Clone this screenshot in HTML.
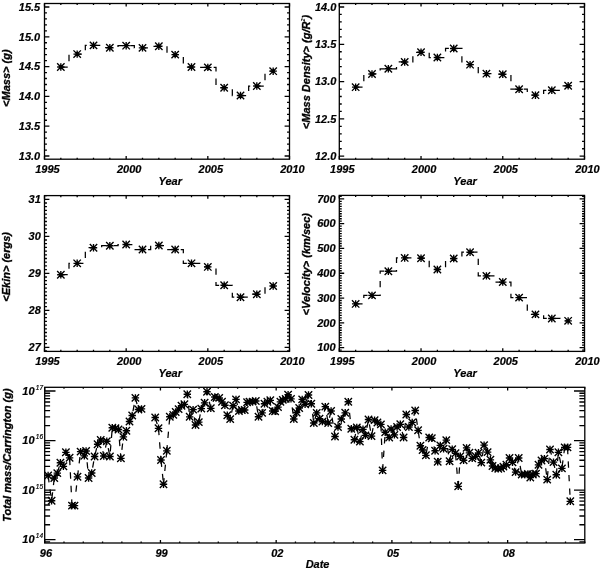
<!DOCTYPE html>
<html><head><meta charset="utf-8"><style>
html,body{margin:0;padding:0;background:#fff;}
svg{display:block;filter:grayscale(1);}
text{font-family:"Liberation Sans",sans-serif;font-weight:bold;font-style:italic;font-size:11px;fill:#000;stroke:#000;stroke-width:0.2px;}
.fr{fill:none;stroke:#000;stroke-width:1.3;}
.tk{fill:none;stroke:#000;stroke-width:1.3;}
.sup{font-size:6.5px;font-weight:normal;}
.rt{stroke:#000;stroke-width:0.35px;}
.thin{stroke-width:0;}
.dl{fill:none;stroke:#000;stroke-width:1.25;stroke-dasharray:6.4 7.15;stroke-dashoffset:-0.5;}
.as{fill:none;stroke:#000;stroke-width:1.35;}
</style></head><body>
<svg width="600" height="571" viewBox="0 0 600 571">
<rect x="44.5" y="3.5" width="245" height="155.7" class="fr"/>
<path d="M44.5 159.2v-3.11M44.5 3.5v3.11M60.83 159.2v-1.56M60.83 3.5v1.56M77.17 159.2v-1.56M77.17 3.5v1.56M93.5 159.2v-1.56M93.5 3.5v1.56M109.83 159.2v-1.56M109.83 3.5v1.56M126.17 159.2v-3.11M126.17 3.5v3.11M142.5 159.2v-1.56M142.5 3.5v1.56M158.83 159.2v-1.56M158.83 3.5v1.56M175.17 159.2v-1.56M175.17 3.5v1.56M191.5 159.2v-1.56M191.5 3.5v1.56M207.83 159.2v-3.11M207.83 3.5v3.11M224.17 159.2v-1.56M224.17 3.5v1.56M240.5 159.2v-1.56M240.5 3.5v1.56M256.83 159.2v-1.56M256.83 3.5v1.56M273.17 159.2v-1.56M273.17 3.5v1.56M289.5 159.2v-3.11M289.5 3.5v3.11M44.5 156h4.9M289.5 156h-4.9M44.5 126.2h4.9M289.5 126.2h-4.9M44.5 96.4h4.9M289.5 96.4h-4.9M44.5 66.6h4.9M289.5 66.6h-4.9M44.5 36.8h4.9M289.5 36.8h-4.9M44.5 7h4.9M289.5 7h-4.9M44.5 156h2.45M289.5 156h-2.45M44.5 150.04h2.45M289.5 150.04h-2.45M44.5 144.08h2.45M289.5 144.08h-2.45M44.5 138.12h2.45M289.5 138.12h-2.45M44.5 132.16h2.45M289.5 132.16h-2.45M44.5 126.2h2.45M289.5 126.2h-2.45M44.5 120.24h2.45M289.5 120.24h-2.45M44.5 114.28h2.45M289.5 114.28h-2.45M44.5 108.32h2.45M289.5 108.32h-2.45M44.5 102.36h2.45M289.5 102.36h-2.45M44.5 96.4h2.45M289.5 96.4h-2.45M44.5 90.44h2.45M289.5 90.44h-2.45M44.5 84.48h2.45M289.5 84.48h-2.45M44.5 78.52h2.45M289.5 78.52h-2.45M44.5 72.56h2.45M289.5 72.56h-2.45M44.5 66.6h2.45M289.5 66.6h-2.45M44.5 60.64h2.45M289.5 60.64h-2.45M44.5 54.68h2.45M289.5 54.68h-2.45M44.5 48.72h2.45M289.5 48.72h-2.45M44.5 42.76h2.45M289.5 42.76h-2.45M44.5 36.8h2.45M289.5 36.8h-2.45M44.5 30.84h2.45M289.5 30.84h-2.45M44.5 24.88h2.45M289.5 24.88h-2.45M44.5 18.92h2.45M289.5 18.92h-2.45M44.5 12.96h2.45M289.5 12.96h-2.45M44.5 7h2.45M289.5 7h-2.45" class="tk"/>
<text x="40.2" y="159.7" text-anchor="end" >13.0</text>
<text x="40.2" y="129.9" text-anchor="end" >13.5</text>
<text x="40.2" y="100.1" text-anchor="end" >14.0</text>
<text x="40.2" y="70.3" text-anchor="end" >14.5</text>
<text x="40.2" y="40.5" text-anchor="end" >15.0</text>
<text x="40.2" y="10.7" text-anchor="end" >15.5</text>
<text x="47.5" y="172.5" text-anchor="middle" >1995</text>
<text x="129.17" y="172.5" text-anchor="middle" >2000</text>
<text x="210.83" y="172.5" text-anchor="middle" >2005</text>
<text x="292.5" y="172.5" text-anchor="middle" >2010</text>
<text x="170.2" y="184.6" text-anchor="middle" >Year</text>
<text transform="translate(10,78.15) rotate(-90)" text-anchor="middle" class="rt">&lt;Mass&gt; (g)</text>
<path d="M60.83 67.02H69V54.08H85.33V45.38H101.67V47.71H118V45.68H134.33V47.89H150.67V46.28H167V54.62H183.33V67.02H199.67V67.37H216V87.7H232.33V95.51H248.67V86.03H265V71.19H273.17" class="dl"/>
<path d="M57.13 67.02H64.53M60.83 63.32V70.72M57.13 63.32L64.53 70.72M57.13 70.72L64.53 63.32M73.47 54.08H80.87M77.17 50.38V57.78M73.47 50.38L80.87 57.78M73.47 57.78L80.87 50.38M89.8 45.38H97.2M93.5 41.68V49.08M89.8 41.68L97.2 49.08M89.8 49.08L97.2 41.68M106.13 47.71H113.53M109.83 44.01V51.41M106.13 44.01L113.53 51.41M106.13 51.41L113.53 44.01M122.47 45.68H129.87M126.17 41.98V49.38M122.47 41.98L129.87 49.38M122.47 49.38L129.87 41.98M138.8 47.89H146.2M142.5 44.19V51.59M138.8 44.19L146.2 51.59M138.8 51.59L146.2 44.19M155.13 46.28H162.53M158.83 42.58V49.98M155.13 42.58L162.53 49.98M155.13 49.98L162.53 42.58M171.47 54.62H178.87M175.17 50.92V58.32M171.47 50.92L178.87 58.32M171.47 58.32L178.87 50.92M187.8 67.02H195.2M191.5 63.32V70.72M187.8 63.32L195.2 70.72M187.8 70.72L195.2 63.32M204.13 67.37H211.53M207.83 63.67V71.07M204.13 63.67L211.53 71.07M204.13 71.07L211.53 63.67M220.47 87.7H227.87M224.17 84V91.4M220.47 84L227.87 91.4M220.47 91.4L227.87 84M236.8 95.51H244.2M240.5 91.81V99.21M236.8 91.81L244.2 99.21M236.8 99.21L244.2 91.81M253.13 86.03H260.53M256.83 82.33V89.73M253.13 82.33L260.53 89.73M253.13 89.73L260.53 82.33M269.47 71.19H276.87M273.17 67.49V74.89M269.47 67.49L276.87 74.89M269.47 74.89L276.87 67.49" class="as"/>
<rect x="339.3" y="3.5" width="245.2" height="155.7" class="fr"/>
<path d="M339.3 159.2v-3.11M339.3 3.5v3.11M355.65 159.2v-1.56M355.65 3.5v1.56M371.99 159.2v-1.56M371.99 3.5v1.56M388.34 159.2v-1.56M388.34 3.5v1.56M404.69 159.2v-1.56M404.69 3.5v1.56M421.03 159.2v-3.11M421.03 3.5v3.11M437.38 159.2v-1.56M437.38 3.5v1.56M453.73 159.2v-1.56M453.73 3.5v1.56M470.07 159.2v-1.56M470.07 3.5v1.56M486.42 159.2v-1.56M486.42 3.5v1.56M502.77 159.2v-3.11M502.77 3.5v3.11M519.11 159.2v-1.56M519.11 3.5v1.56M535.46 159.2v-1.56M535.46 3.5v1.56M551.81 159.2v-1.56M551.81 3.5v1.56M568.15 159.2v-1.56M568.15 3.5v1.56M584.5 159.2v-3.11M584.5 3.5v3.11M339.3 156.2h4.9M584.5 156.2h-4.9M339.3 118.9h4.9M584.5 118.9h-4.9M339.3 81.6h4.9M584.5 81.6h-4.9M339.3 44.3h4.9M584.5 44.3h-4.9M339.3 7h4.9M584.5 7h-4.9M339.3 156.2h2.45M584.5 156.2h-2.45M339.3 148.74h2.45M584.5 148.74h-2.45M339.3 141.28h2.45M584.5 141.28h-2.45M339.3 133.82h2.45M584.5 133.82h-2.45M339.3 126.36h2.45M584.5 126.36h-2.45M339.3 118.9h2.45M584.5 118.9h-2.45M339.3 111.44h2.45M584.5 111.44h-2.45M339.3 103.98h2.45M584.5 103.98h-2.45M339.3 96.52h2.45M584.5 96.52h-2.45M339.3 89.06h2.45M584.5 89.06h-2.45M339.3 81.6h2.45M584.5 81.6h-2.45M339.3 74.14h2.45M584.5 74.14h-2.45M339.3 66.68h2.45M584.5 66.68h-2.45M339.3 59.22h2.45M584.5 59.22h-2.45M339.3 51.76h2.45M584.5 51.76h-2.45M339.3 44.3h2.45M584.5 44.3h-2.45M339.3 36.84h2.45M584.5 36.84h-2.45M339.3 29.38h2.45M584.5 29.38h-2.45M339.3 21.92h2.45M584.5 21.92h-2.45M339.3 14.46h2.45M584.5 14.46h-2.45M339.3 7h2.45M584.5 7h-2.45" class="tk"/>
<text x="336.4" y="159.9" text-anchor="end" >12.0</text>
<text x="336.4" y="122.6" text-anchor="end" >12.5</text>
<text x="336.4" y="85.3" text-anchor="end" >13.0</text>
<text x="336.4" y="48" text-anchor="end" >13.5</text>
<text x="336.4" y="10.7" text-anchor="end" >14.0</text>
<text x="342.3" y="172.5" text-anchor="middle" >1995</text>
<text x="424.03" y="172.5" text-anchor="middle" >2000</text>
<text x="505.77" y="172.5" text-anchor="middle" >2005</text>
<text x="587.5" y="172.5" text-anchor="middle" >2010</text>
<text x="465.1" y="184.6" text-anchor="middle" >Year</text>
<text transform="translate(309.8,72) rotate(-90)" text-anchor="middle" class="rt">&lt;Mass Density&gt; (g/R<tspan dy="-4.5" font-size="5.5" class="thin">2</tspan><tspan dy="4.5">)</tspan></text>
<path d="M355.65 87.19H363.82V73.99H380.17V68.77H396.51V61.98H412.86V52.28H429.21V57.5H445.55V48.48H461.9V64.67H478.25V73.69H494.59V74.21H510.94V89.21H527.29V95.18H543.63V90.25H559.98V85.78H568.15" class="dl"/>
<path d="M351.95 87.19H359.35M355.65 83.49V90.89M351.95 83.49L359.35 90.89M351.95 90.89L359.35 83.49M368.29 73.99H375.69M371.99 70.29V77.69M368.29 70.29L375.69 77.69M368.29 77.69L375.69 70.29M384.64 68.77H392.04M388.34 65.07V72.47M384.64 65.07L392.04 72.47M384.64 72.47L392.04 65.07M400.99 61.98H408.39M404.69 58.28V65.68M400.99 58.28L408.39 65.68M400.99 65.68L408.39 58.28M417.33 52.28H424.73M421.03 48.58V55.98M417.33 48.58L424.73 55.98M417.33 55.98L424.73 48.58M433.68 57.5H441.08M437.38 53.8V61.2M433.68 53.8L441.08 61.2M433.68 61.2L441.08 53.8M450.03 48.48H457.43M453.73 44.78V52.18M450.03 44.78L457.43 52.18M450.03 52.18L457.43 44.78M466.37 64.67H473.77M470.07 60.97V68.37M466.37 60.97L473.77 68.37M466.37 68.37L473.77 60.97M482.72 73.69H490.12M486.42 69.99V77.39M482.72 69.99L490.12 77.39M482.72 77.39L490.12 69.99M499.07 74.21H506.47M502.77 70.51V77.91M499.07 70.51L506.47 77.91M499.07 77.91L506.47 70.51M515.41 89.21H522.81M519.11 85.51V92.91M515.41 85.51L522.81 92.91M515.41 92.91L522.81 85.51M531.76 95.18H539.16M535.46 91.48V98.88M531.76 91.48L539.16 98.88M531.76 98.88L539.16 91.48M548.11 90.25H555.51M551.81 86.55V93.95M548.11 86.55L555.51 93.95M548.11 93.95L555.51 86.55M564.45 85.78H571.85M568.15 82.08V89.48M564.45 82.08L571.85 89.48M564.45 89.48L571.85 82.08" class="as"/>
<rect x="44.5" y="195.6" width="245" height="155.8" class="fr"/>
<path d="M44.5 351.4v-3.12M44.5 195.6v3.12M60.83 351.4v-1.56M60.83 195.6v1.56M77.17 351.4v-1.56M77.17 195.6v1.56M93.5 351.4v-1.56M93.5 195.6v1.56M109.83 351.4v-1.56M109.83 195.6v1.56M126.17 351.4v-3.12M126.17 195.6v3.12M142.5 351.4v-1.56M142.5 195.6v1.56M158.83 351.4v-1.56M158.83 195.6v1.56M175.17 351.4v-1.56M175.17 195.6v1.56M191.5 351.4v-1.56M191.5 195.6v1.56M207.83 351.4v-3.12M207.83 195.6v3.12M224.17 351.4v-1.56M224.17 195.6v1.56M240.5 351.4v-1.56M240.5 195.6v1.56M256.83 351.4v-1.56M256.83 195.6v1.56M273.17 351.4v-1.56M273.17 195.6v1.56M289.5 351.4v-3.12M289.5 195.6v3.12M44.5 347.3h4.9M289.5 347.3h-4.9M44.5 310.3h4.9M289.5 310.3h-4.9M44.5 273.3h4.9M289.5 273.3h-4.9M44.5 236.3h4.9M289.5 236.3h-4.9M44.5 199.3h4.9M289.5 199.3h-4.9M44.5 351h2.45M289.5 351h-2.45M44.5 347.3h2.45M289.5 347.3h-2.45M44.5 343.6h2.45M289.5 343.6h-2.45M44.5 339.9h2.45M289.5 339.9h-2.45M44.5 336.2h2.45M289.5 336.2h-2.45M44.5 332.5h2.45M289.5 332.5h-2.45M44.5 328.8h2.45M289.5 328.8h-2.45M44.5 325.1h2.45M289.5 325.1h-2.45M44.5 321.4h2.45M289.5 321.4h-2.45M44.5 317.7h2.45M289.5 317.7h-2.45M44.5 314h2.45M289.5 314h-2.45M44.5 310.3h2.45M289.5 310.3h-2.45M44.5 306.6h2.45M289.5 306.6h-2.45M44.5 302.9h2.45M289.5 302.9h-2.45M44.5 299.2h2.45M289.5 299.2h-2.45M44.5 295.5h2.45M289.5 295.5h-2.45M44.5 291.8h2.45M289.5 291.8h-2.45M44.5 288.1h2.45M289.5 288.1h-2.45M44.5 284.4h2.45M289.5 284.4h-2.45M44.5 280.7h2.45M289.5 280.7h-2.45M44.5 277h2.45M289.5 277h-2.45M44.5 273.3h2.45M289.5 273.3h-2.45M44.5 269.6h2.45M289.5 269.6h-2.45M44.5 265.9h2.45M289.5 265.9h-2.45M44.5 262.2h2.45M289.5 262.2h-2.45M44.5 258.5h2.45M289.5 258.5h-2.45M44.5 254.8h2.45M289.5 254.8h-2.45M44.5 251.1h2.45M289.5 251.1h-2.45M44.5 247.4h2.45M289.5 247.4h-2.45M44.5 243.7h2.45M289.5 243.7h-2.45M44.5 240h2.45M289.5 240h-2.45M44.5 236.3h2.45M289.5 236.3h-2.45M44.5 232.6h2.45M289.5 232.6h-2.45M44.5 228.9h2.45M289.5 228.9h-2.45M44.5 225.2h2.45M289.5 225.2h-2.45M44.5 221.5h2.45M289.5 221.5h-2.45M44.5 217.8h2.45M289.5 217.8h-2.45M44.5 214.1h2.45M289.5 214.1h-2.45M44.5 210.4h2.45M289.5 210.4h-2.45M44.5 206.7h2.45M289.5 206.7h-2.45M44.5 203h2.45M289.5 203h-2.45M44.5 199.3h2.45M289.5 199.3h-2.45M44.5 195.6h2.45M289.5 195.6h-2.45" class="tk"/>
<text x="40.8" y="351" text-anchor="end" >27</text>
<text x="40.8" y="314" text-anchor="end" >28</text>
<text x="40.8" y="277" text-anchor="end" >29</text>
<text x="40.8" y="240" text-anchor="end" >30</text>
<text x="40.8" y="203" text-anchor="end" >31</text>
<text x="47.5" y="364.7" text-anchor="middle" >1995</text>
<text x="129.17" y="364.7" text-anchor="middle" >2000</text>
<text x="210.83" y="364.7" text-anchor="middle" >2005</text>
<text x="292.5" y="364.7" text-anchor="middle" >2010</text>
<text x="170.2" y="376.8" text-anchor="middle" >Year</text>
<text transform="translate(10,266.85) rotate(-90)" text-anchor="middle" class="rt">&lt;Ekin&gt; (ergs)</text>
<path d="M60.83 274.71H69V263.31H85.33V247.7H101.67V245.73H118V244.51H134.33V249.51H150.67V245.51H167V249.51H183.33V263.31H199.67V266.94H216V285.25H232.33V297.24H248.67V294.24H265V285.99H273.17" class="dl"/>
<path d="M57.13 274.71H64.53M60.83 271.01V278.41M57.13 271.01L64.53 278.41M57.13 278.41L64.53 271.01M73.47 263.31H80.87M77.17 259.61V267.01M73.47 259.61L80.87 267.01M73.47 267.01L80.87 259.61M89.8 247.7H97.2M93.5 244V251.4M89.8 244L97.2 251.4M89.8 251.4L97.2 244M106.13 245.73H113.53M109.83 242.03V249.43M106.13 242.03L113.53 249.43M106.13 249.43L113.53 242.03M122.47 244.51H129.87M126.17 240.81V248.21M122.47 240.81L129.87 248.21M122.47 248.21L129.87 240.81M138.8 249.51H146.2M142.5 245.81V253.21M138.8 245.81L146.2 253.21M138.8 253.21L146.2 245.81M155.13 245.51H162.53M158.83 241.81V249.21M155.13 241.81L162.53 249.21M155.13 249.21L162.53 241.81M171.47 249.51H178.87M175.17 245.81V253.21M171.47 245.81L178.87 253.21M171.47 253.21L178.87 245.81M187.8 263.31H195.2M191.5 259.61V267.01M187.8 259.61L195.2 267.01M187.8 267.01L195.2 259.61M204.13 266.94H211.53M207.83 263.24V270.64M204.13 263.24L211.53 270.64M204.13 270.64L211.53 263.24M220.47 285.25H227.87M224.17 281.55V288.95M220.47 281.55L227.87 288.95M220.47 288.95L227.87 281.55M236.8 297.24H244.2M240.5 293.54V300.94M236.8 293.54L244.2 300.94M236.8 300.94L244.2 293.54M253.13 294.24H260.53M256.83 290.54V297.94M253.13 290.54L260.53 297.94M253.13 297.94L260.53 290.54M269.47 285.99H276.87M273.17 282.29V289.69M269.47 282.29L276.87 289.69M269.47 289.69L276.87 282.29" class="as"/>
<rect x="339.3" y="195.4" width="245.2" height="156" class="fr"/>
<path d="M339.3 351.4v-3.12M339.3 195.4v3.12M355.65 351.4v-1.56M355.65 195.4v1.56M371.99 351.4v-1.56M371.99 195.4v1.56M388.34 351.4v-1.56M388.34 195.4v1.56M404.69 351.4v-1.56M404.69 195.4v1.56M421.03 351.4v-3.12M421.03 195.4v3.12M437.38 351.4v-1.56M437.38 195.4v1.56M453.73 351.4v-1.56M453.73 195.4v1.56M470.07 351.4v-1.56M470.07 195.4v1.56M486.42 351.4v-1.56M486.42 195.4v1.56M502.77 351.4v-3.12M502.77 195.4v3.12M519.11 351.4v-1.56M519.11 195.4v1.56M535.46 351.4v-1.56M535.46 195.4v1.56M551.81 351.4v-1.56M551.81 195.4v1.56M568.15 351.4v-1.56M568.15 195.4v1.56M584.5 351.4v-3.12M584.5 195.4v3.12M339.3 347.6h4.9M584.5 347.6h-4.9M339.3 322.82h4.9M584.5 322.82h-4.9M339.3 298.03h4.9M584.5 298.03h-4.9M339.3 273.25h4.9M584.5 273.25h-4.9M339.3 248.47h4.9M584.5 248.47h-4.9M339.3 223.68h4.9M584.5 223.68h-4.9M339.3 198.9h4.9M584.5 198.9h-4.9M339.3 350.08h2.45M584.5 350.08h-2.45M339.3 347.6h2.45M584.5 347.6h-2.45M339.3 345.12h2.45M584.5 345.12h-2.45M339.3 342.64h2.45M584.5 342.64h-2.45M339.3 340.17h2.45M584.5 340.17h-2.45M339.3 337.69h2.45M584.5 337.69h-2.45M339.3 335.21h2.45M584.5 335.21h-2.45M339.3 332.73h2.45M584.5 332.73h-2.45M339.3 330.25h2.45M584.5 330.25h-2.45M339.3 327.77h2.45M584.5 327.77h-2.45M339.3 325.3h2.45M584.5 325.3h-2.45M339.3 322.82h2.45M584.5 322.82h-2.45M339.3 320.34h2.45M584.5 320.34h-2.45M339.3 317.86h2.45M584.5 317.86h-2.45M339.3 315.38h2.45M584.5 315.38h-2.45M339.3 312.9h2.45M584.5 312.9h-2.45M339.3 310.43h2.45M584.5 310.43h-2.45M339.3 307.95h2.45M584.5 307.95h-2.45M339.3 305.47h2.45M584.5 305.47h-2.45M339.3 302.99h2.45M584.5 302.99h-2.45M339.3 300.51h2.45M584.5 300.51h-2.45M339.3 298.03h2.45M584.5 298.03h-2.45M339.3 295.56h2.45M584.5 295.56h-2.45M339.3 293.08h2.45M584.5 293.08h-2.45M339.3 290.6h2.45M584.5 290.6h-2.45M339.3 288.12h2.45M584.5 288.12h-2.45M339.3 285.64h2.45M584.5 285.64h-2.45M339.3 283.16h2.45M584.5 283.16h-2.45M339.3 280.69h2.45M584.5 280.69h-2.45M339.3 278.21h2.45M584.5 278.21h-2.45M339.3 275.73h2.45M584.5 275.73h-2.45M339.3 273.25h2.45M584.5 273.25h-2.45M339.3 270.77h2.45M584.5 270.77h-2.45M339.3 268.29h2.45M584.5 268.29h-2.45M339.3 265.81h2.45M584.5 265.81h-2.45M339.3 263.34h2.45M584.5 263.34h-2.45M339.3 260.86h2.45M584.5 260.86h-2.45M339.3 258.38h2.45M584.5 258.38h-2.45M339.3 255.9h2.45M584.5 255.9h-2.45M339.3 253.42h2.45M584.5 253.42h-2.45M339.3 250.94h2.45M584.5 250.94h-2.45M339.3 248.47h2.45M584.5 248.47h-2.45M339.3 245.99h2.45M584.5 245.99h-2.45M339.3 243.51h2.45M584.5 243.51h-2.45M339.3 241.03h2.45M584.5 241.03h-2.45M339.3 238.55h2.45M584.5 238.55h-2.45M339.3 236.08h2.45M584.5 236.08h-2.45M339.3 233.6h2.45M584.5 233.6h-2.45M339.3 231.12h2.45M584.5 231.12h-2.45M339.3 228.64h2.45M584.5 228.64h-2.45M339.3 226.16h2.45M584.5 226.16h-2.45M339.3 223.68h2.45M584.5 223.68h-2.45M339.3 221.21h2.45M584.5 221.21h-2.45M339.3 218.73h2.45M584.5 218.73h-2.45M339.3 216.25h2.45M584.5 216.25h-2.45M339.3 213.77h2.45M584.5 213.77h-2.45M339.3 211.29h2.45M584.5 211.29h-2.45M339.3 208.81h2.45M584.5 208.81h-2.45M339.3 206.34h2.45M584.5 206.34h-2.45M339.3 203.86h2.45M584.5 203.86h-2.45M339.3 201.38h2.45M584.5 201.38h-2.45M339.3 198.9h2.45M584.5 198.9h-2.45M339.3 196.42h2.45M584.5 196.42h-2.45" class="tk"/>
<text x="335.5" y="351.3" text-anchor="end" >100</text>
<text x="335.5" y="326.52" text-anchor="end" >200</text>
<text x="335.5" y="301.73" text-anchor="end" >300</text>
<text x="335.5" y="276.95" text-anchor="end" >400</text>
<text x="335.5" y="252.17" text-anchor="end" >500</text>
<text x="335.5" y="227.38" text-anchor="end" >600</text>
<text x="335.5" y="202.6" text-anchor="end" >700</text>
<text x="342.3" y="364.7" text-anchor="middle" >1995</text>
<text x="424.03" y="364.7" text-anchor="middle" >2000</text>
<text x="505.77" y="364.7" text-anchor="middle" >2005</text>
<text x="587.5" y="364.7" text-anchor="middle" >2010</text>
<text x="465.1" y="376.8" text-anchor="middle" >Year</text>
<text transform="translate(310,264.25) rotate(-90)" text-anchor="middle" class="rt">&lt;Velocity&gt; (km/sec)</text>
<path d="M355.65 303.91H363.82V295.38H380.17V271.22H396.51V257.93H412.86V258.23H429.21V269.46H445.55V258.53H461.9V252.23H478.25V275.9H494.59V282.05H510.94V297.61H527.29V314.39H543.63V318.45H559.98V320.83H568.15" class="dl"/>
<path d="M351.95 303.91H359.35M355.65 300.21V307.61M351.95 300.21L359.35 307.61M351.95 307.61L359.35 300.21M368.29 295.38H375.69M371.99 291.68V299.08M368.29 291.68L375.69 299.08M368.29 299.08L375.69 291.68M384.64 271.22H392.04M388.34 267.52V274.92M384.64 267.52L392.04 274.92M384.64 274.92L392.04 267.52M400.99 257.93H408.39M404.69 254.23V261.63M400.99 254.23L408.39 261.63M400.99 261.63L408.39 254.23M417.33 258.23H424.73M421.03 254.53V261.93M417.33 254.53L424.73 261.93M417.33 261.93L424.73 254.53M433.68 269.46H441.08M437.38 265.76V273.16M433.68 265.76L441.08 273.16M433.68 273.16L441.08 265.76M450.03 258.53H457.43M453.73 254.83V262.23M450.03 254.83L457.43 262.23M450.03 262.23L457.43 254.83M466.37 252.23H473.77M470.07 248.53V255.93M466.37 248.53L473.77 255.93M466.37 255.93L473.77 248.53M482.72 275.9H490.12M486.42 272.2V279.6M482.72 272.2L490.12 279.6M482.72 279.6L490.12 272.2M499.07 282.05H506.47M502.77 278.35V285.75M499.07 278.35L506.47 285.75M499.07 285.75L506.47 278.35M515.41 297.61H522.81M519.11 293.91V301.31M515.41 293.91L522.81 301.31M515.41 301.31L522.81 293.91M531.76 314.39H539.16M535.46 310.69V318.09M531.76 310.69L539.16 318.09M531.76 318.09L539.16 310.69M548.11 318.45H555.51M551.81 314.75V322.15M548.11 314.75L555.51 322.15M548.11 322.15L555.51 314.75M564.45 320.83H571.85M568.15 317.13V324.53M564.45 317.13L571.85 324.53M564.45 324.53L571.85 317.13" class="as"/>
<rect x="44.7" y="387.3" width="540.1" height="155.7" class="fr"/>
<path d="M44.7 543v-3.11M44.7 387.3v3.11M63.99 543v-1.56M63.99 387.3v1.56M83.28 543v-1.56M83.28 387.3v1.56M102.57 543v-1.56M102.57 387.3v1.56M121.86 543v-1.56M121.86 387.3v1.56M141.15 543v-1.56M141.15 387.3v1.56M160.44 543v-3.11M160.44 387.3v3.11M179.72 543v-1.56M179.72 387.3v1.56M199.01 543v-1.56M199.01 387.3v1.56M218.3 543v-1.56M218.3 387.3v1.56M237.59 543v-1.56M237.59 387.3v1.56M256.88 543v-1.56M256.88 387.3v1.56M276.17 543v-3.11M276.17 387.3v3.11M295.46 543v-1.56M295.46 387.3v1.56M314.75 543v-1.56M314.75 387.3v1.56M334.04 543v-1.56M334.04 387.3v1.56M353.33 543v-1.56M353.33 387.3v1.56M372.62 543v-1.56M372.62 387.3v1.56M391.91 543v-3.11M391.91 387.3v3.11M411.2 543v-1.56M411.2 387.3v1.56M430.49 543v-1.56M430.49 387.3v1.56M449.77 543v-1.56M449.77 387.3v1.56M469.06 543v-1.56M469.06 387.3v1.56M488.35 543v-1.56M488.35 387.3v1.56M507.64 543v-3.11M507.64 387.3v3.11M526.93 543v-1.56M526.93 387.3v1.56M546.22 543v-1.56M546.22 387.3v1.56M565.51 543v-1.56M565.51 387.3v1.56M584.8 543v-1.56M584.8 387.3v1.56M44.7 541.92h5.4M584.8 541.92h-5.4M44.7 539.65h10.8M584.8 539.65h-10.8M44.7 524.73h5.4M584.8 524.73h-5.4M44.7 516.01h5.4M584.8 516.01h-5.4M44.7 509.82h5.4M584.8 509.82h-5.4M44.7 505.02h5.4M584.8 505.02h-5.4M44.7 501.09h5.4M584.8 501.09h-5.4M44.7 497.78h5.4M584.8 497.78h-5.4M44.7 494.9h5.4M584.8 494.9h-5.4M44.7 492.37h5.4M584.8 492.37h-5.4M44.7 490.1h10.8M584.8 490.1h-10.8M44.7 475.18h5.4M584.8 475.18h-5.4M44.7 466.46h5.4M584.8 466.46h-5.4M44.7 460.27h5.4M584.8 460.27h-5.4M44.7 455.47h5.4M584.8 455.47h-5.4M44.7 451.54h5.4M584.8 451.54h-5.4M44.7 448.23h5.4M584.8 448.23h-5.4M44.7 445.35h5.4M584.8 445.35h-5.4M44.7 442.82h5.4M584.8 442.82h-5.4M44.7 440.55h10.8M584.8 440.55h-10.8M44.7 425.63h5.4M584.8 425.63h-5.4M44.7 416.91h5.4M584.8 416.91h-5.4M44.7 410.72h5.4M584.8 410.72h-5.4M44.7 405.92h5.4M584.8 405.92h-5.4M44.7 401.99h5.4M584.8 401.99h-5.4M44.7 398.68h5.4M584.8 398.68h-5.4M44.7 395.8h5.4M584.8 395.8h-5.4M44.7 393.27h5.4M584.8 393.27h-5.4M44.7 391h10.8M584.8 391h-10.8" class="tk"/>
<text x="34.6" y="543.45" text-anchor="end">10</text>
<text x="35.8" y="538.35" class="sup">14</text>
<text x="34.6" y="493.9" text-anchor="end">10</text>
<text x="35.8" y="488.8" class="sup">15</text>
<text x="34.6" y="444.35" text-anchor="end">10</text>
<text x="35.8" y="439.25" class="sup">16</text>
<text x="34.6" y="394.8" text-anchor="end">10</text>
<text x="35.8" y="389.7" class="sup">17</text>
<text x="45.9" y="557" text-anchor="middle" >96</text>
<text x="161.64" y="557" text-anchor="middle" >99</text>
<text x="277.37" y="557" text-anchor="middle" >02</text>
<text x="393.11" y="557" text-anchor="middle" >05</text>
<text x="508.84" y="557" text-anchor="middle" >08</text>
<text x="317.55" y="568.4" text-anchor="middle" >Date</text>
<text transform="translate(10.5,455.05) rotate(-90)" text-anchor="middle" class="rt">Total mass/Carrington (g)</text>
<path d="M48.1 475.5L51.6 500.7L54.3 478L57.3 473.1L60.4 462.7L63.4 466.3L65.9 452.3L69.6 457.8" class="dl" style="stroke-dashoffset:-0.5"/>
<path d="M69.6 457.8L72 505.6" class="dl" style="stroke-dashoffset:-14.5"/>
<path d="M72 505.6L74.5 505.6" class="dl" style="stroke-dashoffset:137.8"/>
<path d="M74.5 505.6L77.5 476.8" class="dl" style="stroke-dasharray:0 13.9 6.4 1000;stroke-dashoffset:0"/>
<path d="M77.5 476.8L80.6 451.6" class="dl" style="stroke-dashoffset:-0"/>
<path d="M80.6 451.6L84.3 455.9L86.1 451L88.6 478L91.7 473L94.6 456.5L97.6 444.2L100.7 440L103.8 456L106.8 441.2L109.9 456.5L112.3 427.7L115.4 428.3L118.5 429.5L120.9 458.3L123.4 436.9L126.4 430.7L129.5 421.5L132.2 415.5L135.4 397.9L138.4 409.5L141.5 408.9" class="dl" style="stroke-dashoffset:194.64"/>
<path d="M155.2 417.5L158.5 428.3" class="dl" style="stroke-dashoffset:-0.5"/>
<path d="M158.5 428.3L161 460" class="dl" style="stroke-dashoffset:-14.04"/>
<path d="M161 460L163.5 484.2" class="dl" style="stroke-dashoffset:-14"/>
<path d="M163.5 484.2L166.8 450.8" class="dl" style="stroke-dashoffset:-13.3"/>
<path d="M166.8 450.8L169.8 416.7" class="dl" style="stroke-dashoffset:-12.8"/>
<path d="M169.8 416.7L173.3 414.9L175.7 412L178.6 409.1L181.5 405.7L184.4 404.3L187.3 394.2L189.7 416.8L193.1 409.6L195.5 425L198.8 422.1L201.3 408.6L204.6 402.8L207 391.7L210.8 408.3L214.8 397L219.2 397.9L222 401.8L224.9 405.2L227.3 415.3L230.2 419.1L233.1 405.7L236 399.4L238.9 411L241.8 410L244.7 410L247.1 402.3L249.5 401.8L252.6 401.6L255.8 401L258.5 416.7L262.1 412.9L264.5 403.7L267.4 401.8L270.3 400.3L272.7 411L275.1 411.4L278 407.1L280.4 401.8L282.8 399.9L285.7 398.9L288.1 394.6L291 398.9L293.8 419L296.6 412.5L299.2 408L302.2 399.4L305.1 404.2L308.5 395L311.3 403.7L313.8 423L316.7 412.9L319.5 418.7L322.4 421.6L325.3 406.6L328.2 423L331.1 411L335 436.5L338 427L341.3 419L345.2 412.8L348.3 401.7L351.3 428.7L354.4 439.7L356.8 427.5L359.9 441.6L363 429.3L365.4 435.4L368.5 419.5L371.5 436.1L374.6 420.1L377.4 422.5L380.9 424.4" class="dl" style="stroke-dashoffset:134.71"/>
<path d="M380.9 424.4L382.6 470.4" class="dl" style="stroke-dashoffset:-14.2"/>
<path d="M382.6 470.4L385.2 432.2" class="dl" style="stroke-dashoffset:-13.43"/>
<path d="M385.2 432.2L389.2 437.5L391.1 429L394.4 434.9L397.1 427L400.3 424.3L403.6 437.5L406.3 414.5L408.9 427L412.2 422.4L415.2 410.5L418.1 430.3L420.4 445.7L422.6 450L425.9 455.3L429.2 437.5L431.8 438.2L435.1 450.7L437.7 461.8L440.3 445.4L443.6 448.7L446.3 440.1L449.6 461.2L452.2 449.3L455.5 453.3" class="dl" style="stroke-dashoffset:878.92"/>
<path d="M455.5 453.3L458.2 486.3" class="dl" style="stroke-dashoffset:-14.25"/>
<path d="M458.2 486.3L460.3 456.3" class="dl" style="stroke-dashoffset:-12.6"/>
<path d="M460.3 456.3L463.6 460.2L466.6 447.9L469.4 452.8L472.2 458.4L475.7 456.3L478.5 452.8L481.3 462.6L484.1 445.1L487.6 452.1L490.4 459.8L492.5 466L495.3 468.1L498.3 468.9L501 468.2L503.4 466.6L506.4 464.7L509.5 458L512.5 462.3L515.6 472.1L518.7 458L521.7 474.5L524.8 474.5L527.9 473.9L530.3 477.6L532.8 474.5L536 473.6L538.5 464.8L541.5 460.5L544.4 458.6L547.2 479.6L550 449.5L553.5 462.1L556.3 474.7L558.4 452.3L561.9 468.4L564.7 447.4L567.5 447.4" class="dl" style="stroke-dashoffset:1205"/>
<path d="M567.5 447.4L570.3 501.3" class="dl" style="stroke-dashoffset:-14"/>
<path d="M44.4 475.5H51.8M48.1 471.8V479.2M44.4 471.8L51.8 479.2M44.4 479.2L51.8 471.8M47.9 500.7H55.3M51.6 497V504.4M47.9 497L55.3 504.4M47.9 504.4L55.3 497M50.6 478H58M54.3 474.3V481.7M50.6 474.3L58 481.7M50.6 481.7L58 474.3M53.6 473.1H61M57.3 469.4V476.8M53.6 469.4L61 476.8M53.6 476.8L61 469.4M56.7 462.7H64.1M60.4 459V466.4M56.7 459L64.1 466.4M56.7 466.4L64.1 459M59.7 466.3H67.1M63.4 462.6V470M59.7 462.6L67.1 470M59.7 470L67.1 462.6M62.2 452.3H69.6M65.9 448.6V456M62.2 448.6L69.6 456M62.2 456L69.6 448.6M65.9 457.8H73.3M69.6 454.1V461.5M65.9 454.1L73.3 461.5M65.9 461.5L73.3 454.1M68.3 505.6H75.7M72 501.9V509.3M68.3 501.9L75.7 509.3M68.3 509.3L75.7 501.9M70.8 505.6H78.2M74.5 501.9V509.3M70.8 501.9L78.2 509.3M70.8 509.3L78.2 501.9M73.8 476.8H81.2M77.5 473.1V480.5M73.8 473.1L81.2 480.5M73.8 480.5L81.2 473.1M76.9 451.6H84.3M80.6 447.9V455.3M76.9 447.9L84.3 455.3M76.9 455.3L84.3 447.9M80.6 455.9H88M84.3 452.2V459.6M80.6 452.2L88 459.6M80.6 459.6L88 452.2M82.4 451H89.8M86.1 447.3V454.7M82.4 447.3L89.8 454.7M82.4 454.7L89.8 447.3M84.9 478H92.3M88.6 474.3V481.7M84.9 474.3L92.3 481.7M84.9 481.7L92.3 474.3M88 473H95.4M91.7 469.3V476.7M88 469.3L95.4 476.7M88 476.7L95.4 469.3M90.9 456.5H98.3M94.6 452.8V460.2M90.9 452.8L98.3 460.2M90.9 460.2L98.3 452.8M93.9 444.2H101.3M97.6 440.5V447.9M93.9 440.5L101.3 447.9M93.9 447.9L101.3 440.5M97 440H104.4M100.7 436.3V443.7M97 436.3L104.4 443.7M97 443.7L104.4 436.3M100.1 456H107.5M103.8 452.3V459.7M100.1 452.3L107.5 459.7M100.1 459.7L107.5 452.3M103.1 441.2H110.5M106.8 437.5V444.9M103.1 437.5L110.5 444.9M103.1 444.9L110.5 437.5M106.2 456.5H113.6M109.9 452.8V460.2M106.2 452.8L113.6 460.2M106.2 460.2L113.6 452.8M108.6 427.7H116M112.3 424V431.4M108.6 424L116 431.4M108.6 431.4L116 424M111.7 428.3H119.1M115.4 424.6V432M111.7 424.6L119.1 432M111.7 432L119.1 424.6M114.8 429.5H122.2M118.5 425.8V433.2M114.8 425.8L122.2 433.2M114.8 433.2L122.2 425.8M117.2 458.3H124.6M120.9 454.6V462M117.2 454.6L124.6 462M117.2 462L124.6 454.6M119.7 436.9H127.1M123.4 433.2V440.6M119.7 433.2L127.1 440.6M119.7 440.6L127.1 433.2M122.7 430.7H130.1M126.4 427V434.4M122.7 427L130.1 434.4M122.7 434.4L130.1 427M125.8 421.5H133.2M129.5 417.8V425.2M125.8 417.8L133.2 425.2M125.8 425.2L133.2 417.8M128.5 415.5H135.9M132.2 411.8V419.2M128.5 411.8L135.9 419.2M128.5 419.2L135.9 411.8M131.7 397.9H139.1M135.4 394.2V401.6M131.7 394.2L139.1 401.6M131.7 401.6L139.1 394.2M134.7 409.5H142.1M138.4 405.8V413.2M134.7 405.8L142.1 413.2M134.7 413.2L142.1 405.8M137.8 408.9H145.2M141.5 405.2V412.6M137.8 405.2L145.2 412.6M137.8 412.6L145.2 405.2M151.5 417.5H158.9M155.2 413.8V421.2M151.5 413.8L158.9 421.2M151.5 421.2L158.9 413.8M154.8 428.3H162.2M158.5 424.6V432M154.8 424.6L162.2 432M154.8 432L162.2 424.6M157.3 460H164.7M161 456.3V463.7M157.3 456.3L164.7 463.7M157.3 463.7L164.7 456.3M159.8 484.2H167.2M163.5 480.5V487.9M159.8 480.5L167.2 487.9M159.8 487.9L167.2 480.5M163.1 450.8H170.5M166.8 447.1V454.5M163.1 447.1L170.5 454.5M163.1 454.5L170.5 447.1M166.1 416.7H173.5M169.8 413V420.4M166.1 413L173.5 420.4M166.1 420.4L173.5 413M169.6 414.9H177M173.3 411.2V418.6M169.6 411.2L177 418.6M169.6 418.6L177 411.2M172 412H179.4M175.7 408.3V415.7M172 408.3L179.4 415.7M172 415.7L179.4 408.3M174.9 409.1H182.3M178.6 405.4V412.8M174.9 405.4L182.3 412.8M174.9 412.8L182.3 405.4M177.8 405.7H185.2M181.5 402V409.4M177.8 402L185.2 409.4M177.8 409.4L185.2 402M180.7 404.3H188.1M184.4 400.6V408M180.7 400.6L188.1 408M180.7 408L188.1 400.6M183.6 394.2H191M187.3 390.5V397.9M183.6 390.5L191 397.9M183.6 397.9L191 390.5M186 416.8H193.4M189.7 413.1V420.5M186 413.1L193.4 420.5M186 420.5L193.4 413.1M189.4 409.6H196.8M193.1 405.9V413.3M189.4 405.9L196.8 413.3M189.4 413.3L196.8 405.9M191.8 425H199.2M195.5 421.3V428.7M191.8 421.3L199.2 428.7M191.8 428.7L199.2 421.3M195.1 422.1H202.5M198.8 418.4V425.8M195.1 418.4L202.5 425.8M195.1 425.8L202.5 418.4M197.6 408.6H205M201.3 404.9V412.3M197.6 404.9L205 412.3M197.6 412.3L205 404.9M200.9 402.8H208.3M204.6 399.1V406.5M200.9 399.1L208.3 406.5M200.9 406.5L208.3 399.1M203.3 391.7H210.7M207 388V395.4M203.3 388L210.7 395.4M203.3 395.4L210.7 388M207.1 408.3H214.5M210.8 404.6V412M207.1 404.6L214.5 412M207.1 412L214.5 404.6M211.1 397H218.5M214.8 393.3V400.7M211.1 393.3L218.5 400.7M211.1 400.7L218.5 393.3M215.5 397.9H222.9M219.2 394.2V401.6M215.5 394.2L222.9 401.6M215.5 401.6L222.9 394.2M218.3 401.8H225.7M222 398.1V405.5M218.3 398.1L225.7 405.5M218.3 405.5L225.7 398.1M221.2 405.2H228.6M224.9 401.5V408.9M221.2 401.5L228.6 408.9M221.2 408.9L228.6 401.5M223.6 415.3H231M227.3 411.6V419M223.6 411.6L231 419M223.6 419L231 411.6M226.5 419.1H233.9M230.2 415.4V422.8M226.5 415.4L233.9 422.8M226.5 422.8L233.9 415.4M229.4 405.7H236.8M233.1 402V409.4M229.4 402L236.8 409.4M229.4 409.4L236.8 402M232.3 399.4H239.7M236 395.7V403.1M232.3 395.7L239.7 403.1M232.3 403.1L239.7 395.7M235.2 411H242.6M238.9 407.3V414.7M235.2 407.3L242.6 414.7M235.2 414.7L242.6 407.3M238.1 410H245.5M241.8 406.3V413.7M238.1 406.3L245.5 413.7M238.1 413.7L245.5 406.3M241 410H248.4M244.7 406.3V413.7M241 406.3L248.4 413.7M241 413.7L248.4 406.3M243.4 402.3H250.8M247.1 398.6V406M243.4 398.6L250.8 406M243.4 406L250.8 398.6M245.8 401.8H253.2M249.5 398.1V405.5M245.8 398.1L253.2 405.5M245.8 405.5L253.2 398.1M248.9 401.6H256.3M252.6 397.9V405.3M248.9 397.9L256.3 405.3M248.9 405.3L256.3 397.9M252.1 401H259.5M255.8 397.3V404.7M252.1 397.3L259.5 404.7M252.1 404.7L259.5 397.3M254.8 416.7H262.2M258.5 413V420.4M254.8 413L262.2 420.4M254.8 420.4L262.2 413M258.4 412.9H265.8M262.1 409.2V416.6M258.4 409.2L265.8 416.6M258.4 416.6L265.8 409.2M260.8 403.7H268.2M264.5 400V407.4M260.8 400L268.2 407.4M260.8 407.4L268.2 400M263.7 401.8H271.1M267.4 398.1V405.5M263.7 398.1L271.1 405.5M263.7 405.5L271.1 398.1M266.6 400.3H274M270.3 396.6V404M266.6 396.6L274 404M266.6 404L274 396.6M269 411H276.4M272.7 407.3V414.7M269 407.3L276.4 414.7M269 414.7L276.4 407.3M271.4 411.4H278.8M275.1 407.7V415.1M271.4 407.7L278.8 415.1M271.4 415.1L278.8 407.7M274.3 407.1H281.7M278 403.4V410.8M274.3 403.4L281.7 410.8M274.3 410.8L281.7 403.4M276.7 401.8H284.1M280.4 398.1V405.5M276.7 398.1L284.1 405.5M276.7 405.5L284.1 398.1M279.1 399.9H286.5M282.8 396.2V403.6M279.1 396.2L286.5 403.6M279.1 403.6L286.5 396.2M282 398.9H289.4M285.7 395.2V402.6M282 395.2L289.4 402.6M282 402.6L289.4 395.2M284.4 394.6H291.8M288.1 390.9V398.3M284.4 390.9L291.8 398.3M284.4 398.3L291.8 390.9M287.3 398.9H294.7M291 395.2V402.6M287.3 395.2L294.7 402.6M287.3 402.6L294.7 395.2M290.1 419H297.5M293.8 415.3V422.7M290.1 415.3L297.5 422.7M290.1 422.7L297.5 415.3M292.9 412.5H300.3M296.6 408.8V416.2M292.9 408.8L300.3 416.2M292.9 416.2L300.3 408.8M295.5 408H302.9M299.2 404.3V411.7M295.5 404.3L302.9 411.7M295.5 411.7L302.9 404.3M298.5 399.4H305.9M302.2 395.7V403.1M298.5 395.7L305.9 403.1M298.5 403.1L305.9 395.7M301.4 404.2H308.8M305.1 400.5V407.9M301.4 400.5L308.8 407.9M301.4 407.9L308.8 400.5M304.8 395H312.2M308.5 391.3V398.7M304.8 391.3L312.2 398.7M304.8 398.7L312.2 391.3M307.6 403.7H315M311.3 400V407.4M307.6 400L315 407.4M307.6 407.4L315 400M310.1 423H317.5M313.8 419.3V426.7M310.1 419.3L317.5 426.7M310.1 426.7L317.5 419.3M313 412.9H320.4M316.7 409.2V416.6M313 409.2L320.4 416.6M313 416.6L320.4 409.2M315.8 418.7H323.2M319.5 415V422.4M315.8 415L323.2 422.4M315.8 422.4L323.2 415M318.7 421.6H326.1M322.4 417.9V425.3M318.7 417.9L326.1 425.3M318.7 425.3L326.1 417.9M321.6 406.6H329M325.3 402.9V410.3M321.6 402.9L329 410.3M321.6 410.3L329 402.9M324.5 423H331.9M328.2 419.3V426.7M324.5 419.3L331.9 426.7M324.5 426.7L331.9 419.3M327.4 411H334.8M331.1 407.3V414.7M327.4 407.3L334.8 414.7M327.4 414.7L334.8 407.3M331.3 436.5H338.7M335 432.8V440.2M331.3 432.8L338.7 440.2M331.3 440.2L338.7 432.8M334.3 427H341.7M338 423.3V430.7M334.3 423.3L341.7 430.7M334.3 430.7L341.7 423.3M337.6 419H345M341.3 415.3V422.7M337.6 415.3L345 422.7M337.6 422.7L345 415.3M341.5 412.8H348.9M345.2 409.1V416.5M341.5 409.1L348.9 416.5M341.5 416.5L348.9 409.1M344.6 401.7H352M348.3 398V405.4M344.6 398L352 405.4M344.6 405.4L352 398M347.6 428.7H355M351.3 425V432.4M347.6 425L355 432.4M347.6 432.4L355 425M350.7 439.7H358.1M354.4 436V443.4M350.7 436L358.1 443.4M350.7 443.4L358.1 436M353.1 427.5H360.5M356.8 423.8V431.2M353.1 423.8L360.5 431.2M353.1 431.2L360.5 423.8M356.2 441.6H363.6M359.9 437.9V445.3M356.2 437.9L363.6 445.3M356.2 445.3L363.6 437.9M359.3 429.3H366.7M363 425.6V433M359.3 425.6L366.7 433M359.3 433L366.7 425.6M361.7 435.4H369.1M365.4 431.7V439.1M361.7 431.7L369.1 439.1M361.7 439.1L369.1 431.7M364.8 419.5H372.2M368.5 415.8V423.2M364.8 415.8L372.2 423.2M364.8 423.2L372.2 415.8M367.8 436.1H375.2M371.5 432.4V439.8M367.8 432.4L375.2 439.8M367.8 439.8L375.2 432.4M370.9 420.1H378.3M374.6 416.4V423.8M370.9 416.4L378.3 423.8M370.9 423.8L378.3 416.4M373.7 422.5H381.1M377.4 418.8V426.2M373.7 418.8L381.1 426.2M373.7 426.2L381.1 418.8M377.2 424.4H384.6M380.9 420.7V428.1M377.2 420.7L384.6 428.1M377.2 428.1L384.6 420.7M378.9 470.4H386.3M382.6 466.7V474.1M378.9 466.7L386.3 474.1M378.9 474.1L386.3 466.7M381.5 432.2H388.9M385.2 428.5V435.9M381.5 428.5L388.9 435.9M381.5 435.9L388.9 428.5M385.5 437.5H392.9M389.2 433.8V441.2M385.5 433.8L392.9 441.2M385.5 441.2L392.9 433.8M387.4 429H394.8M391.1 425.3V432.7M387.4 425.3L394.8 432.7M387.4 432.7L394.8 425.3M390.7 434.9H398.1M394.4 431.2V438.6M390.7 431.2L398.1 438.6M390.7 438.6L398.1 431.2M393.4 427H400.8M397.1 423.3V430.7M393.4 423.3L400.8 430.7M393.4 430.7L400.8 423.3M396.6 424.3H404M400.3 420.6V428M396.6 420.6L404 428M396.6 428L404 420.6M399.9 437.5H407.3M403.6 433.8V441.2M399.9 433.8L407.3 441.2M399.9 441.2L407.3 433.8M402.6 414.5H410M406.3 410.8V418.2M402.6 410.8L410 418.2M402.6 418.2L410 410.8M405.2 427H412.6M408.9 423.3V430.7M405.2 423.3L412.6 430.7M405.2 430.7L412.6 423.3M408.5 422.4H415.9M412.2 418.7V426.1M408.5 418.7L415.9 426.1M408.5 426.1L415.9 418.7M411.5 410.5H418.9M415.2 406.8V414.2M411.5 406.8L418.9 414.2M411.5 414.2L418.9 406.8M414.4 430.3H421.8M418.1 426.6V434M414.4 426.6L421.8 434M414.4 434L421.8 426.6M416.7 445.7H424.1M420.4 442V449.4M416.7 442L424.1 449.4M416.7 449.4L424.1 442M418.9 450H426.3M422.6 446.3V453.7M418.9 446.3L426.3 453.7M418.9 453.7L426.3 446.3M422.2 455.3H429.6M425.9 451.6V459M422.2 451.6L429.6 459M422.2 459L429.6 451.6M425.5 437.5H432.9M429.2 433.8V441.2M425.5 433.8L432.9 441.2M425.5 441.2L432.9 433.8M428.1 438.2H435.5M431.8 434.5V441.9M428.1 434.5L435.5 441.9M428.1 441.9L435.5 434.5M431.4 450.7H438.8M435.1 447V454.4M431.4 447L438.8 454.4M431.4 454.4L438.8 447M434 461.8H441.4M437.7 458.1V465.5M434 458.1L441.4 465.5M434 465.5L441.4 458.1M436.6 445.4H444M440.3 441.7V449.1M436.6 441.7L444 449.1M436.6 449.1L444 441.7M439.9 448.7H447.3M443.6 445V452.4M439.9 445L447.3 452.4M439.9 452.4L447.3 445M442.6 440.1H450M446.3 436.4V443.8M442.6 436.4L450 443.8M442.6 443.8L450 436.4M445.9 461.2H453.3M449.6 457.5V464.9M445.9 457.5L453.3 464.9M445.9 464.9L453.3 457.5M448.5 449.3H455.9M452.2 445.6V453M448.5 445.6L455.9 453M448.5 453L455.9 445.6M451.8 453.3H459.2M455.5 449.6V457M451.8 449.6L459.2 457M451.8 457L459.2 449.6M454.5 486.3H461.9M458.2 482.6V490M454.5 482.6L461.9 490M454.5 490L461.9 482.6M456.6 456.3H464M460.3 452.6V460M456.6 452.6L464 460M456.6 460L464 452.6M459.9 460.2H467.3M463.6 456.5V463.9M459.9 456.5L467.3 463.9M459.9 463.9L467.3 456.5M462.9 447.9H470.3M466.6 444.2V451.6M462.9 444.2L470.3 451.6M462.9 451.6L470.3 444.2M465.7 452.8H473.1M469.4 449.1V456.5M465.7 449.1L473.1 456.5M465.7 456.5L473.1 449.1M468.5 458.4H475.9M472.2 454.7V462.1M468.5 454.7L475.9 462.1M468.5 462.1L475.9 454.7M472 456.3H479.4M475.7 452.6V460M472 452.6L479.4 460M472 460L479.4 452.6M474.8 452.8H482.2M478.5 449.1V456.5M474.8 449.1L482.2 456.5M474.8 456.5L482.2 449.1M477.6 462.6H485M481.3 458.9V466.3M477.6 458.9L485 466.3M477.6 466.3L485 458.9M480.4 445.1H487.8M484.1 441.4V448.8M480.4 441.4L487.8 448.8M480.4 448.8L487.8 441.4M483.9 452.1H491.3M487.6 448.4V455.8M483.9 448.4L491.3 455.8M483.9 455.8L491.3 448.4M486.7 459.8H494.1M490.4 456.1V463.5M486.7 456.1L494.1 463.5M486.7 463.5L494.1 456.1M488.8 466H496.2M492.5 462.3V469.7M488.8 462.3L496.2 469.7M488.8 469.7L496.2 462.3M491.6 468.1H499M495.3 464.4V471.8M491.6 464.4L499 471.8M491.6 471.8L499 464.4M494.6 468.9H502M498.3 465.2V472.6M494.6 465.2L502 472.6M494.6 472.6L502 465.2M497.3 468.2H504.7M501 464.5V471.9M497.3 464.5L504.7 471.9M497.3 471.9L504.7 464.5M499.7 466.6H507.1M503.4 462.9V470.3M499.7 462.9L507.1 470.3M499.7 470.3L507.1 462.9M502.7 464.7H510.1M506.4 461V468.4M502.7 461L510.1 468.4M502.7 468.4L510.1 461M505.8 458H513.2M509.5 454.3V461.7M505.8 454.3L513.2 461.7M505.8 461.7L513.2 454.3M508.8 462.3H516.2M512.5 458.6V466M508.8 458.6L516.2 466M508.8 466L516.2 458.6M511.9 472.1H519.3M515.6 468.4V475.8M511.9 468.4L519.3 475.8M511.9 475.8L519.3 468.4M515 458H522.4M518.7 454.3V461.7M515 454.3L522.4 461.7M515 461.7L522.4 454.3M518 474.5H525.4M521.7 470.8V478.2M518 470.8L525.4 478.2M518 478.2L525.4 470.8M521.1 474.5H528.5M524.8 470.8V478.2M521.1 470.8L528.5 478.2M521.1 478.2L528.5 470.8M524.2 473.9H531.6M527.9 470.2V477.6M524.2 470.2L531.6 477.6M524.2 477.6L531.6 470.2M526.6 477.6H534M530.3 473.9V481.3M526.6 473.9L534 481.3M526.6 481.3L534 473.9M529.1 474.5H536.5M532.8 470.8V478.2M529.1 470.8L536.5 478.2M529.1 478.2L536.5 470.8M532.3 473.6H539.7M536 469.9V477.3M532.3 469.9L539.7 477.3M532.3 477.3L539.7 469.9M534.8 464.8H542.2M538.5 461.1V468.5M534.8 461.1L542.2 468.5M534.8 468.5L542.2 461.1M537.8 460.5H545.2M541.5 456.8V464.2M537.8 456.8L545.2 464.2M537.8 464.2L545.2 456.8M540.7 458.6H548.1M544.4 454.9V462.3M540.7 454.9L548.1 462.3M540.7 462.3L548.1 454.9M543.5 479.6H550.9M547.2 475.9V483.3M543.5 475.9L550.9 483.3M543.5 483.3L550.9 475.9M546.3 449.5H553.7M550 445.8V453.2M546.3 445.8L553.7 453.2M546.3 453.2L553.7 445.8M549.8 462.1H557.2M553.5 458.4V465.8M549.8 458.4L557.2 465.8M549.8 465.8L557.2 458.4M552.6 474.7H560M556.3 471V478.4M552.6 471L560 478.4M552.6 478.4L560 471M554.7 452.3H562.1M558.4 448.6V456M554.7 448.6L562.1 456M554.7 456L562.1 448.6M558.2 468.4H565.6M561.9 464.7V472.1M558.2 464.7L565.6 472.1M558.2 472.1L565.6 464.7M561 447.4H568.4M564.7 443.7V451.1M561 443.7L568.4 451.1M561 451.1L568.4 443.7M563.8 447.4H571.2M567.5 443.7V451.1M563.8 443.7L571.2 451.1M563.8 451.1L571.2 443.7M566.6 501.3H574M570.3 497.6V505M566.6 497.6L574 505M566.6 505L574 497.6" class="as"/>
</svg>
</body></html>
